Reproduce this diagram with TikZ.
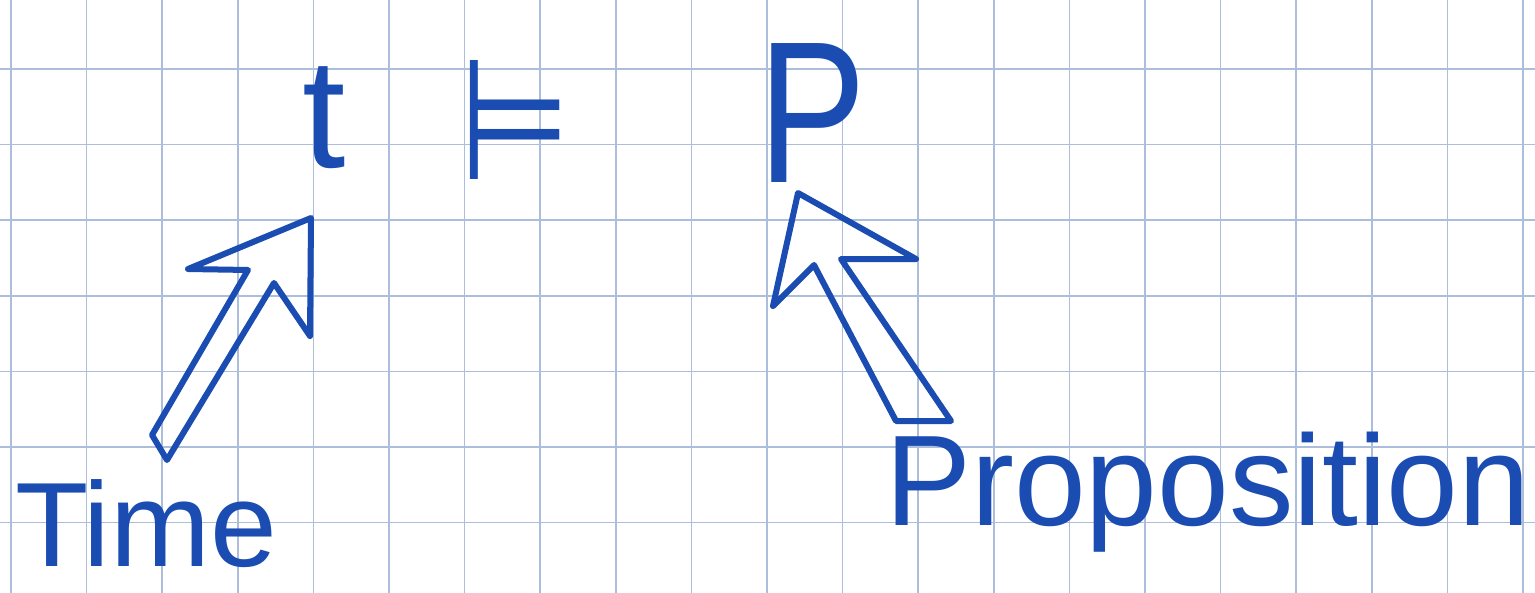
\documentclass[tikz,border=0pt]{standalone}
\usepackage{fontspec}
\setmainfont{Liberation Sans}
\newfontfamily\symfont{DejaVu Sans}
\definecolor{ink}{RGB}{26,76,178}
\definecolor{gridc}{RGB}{172,190,220}
\begin{document}
\begin{tikzpicture}[x=0.5pt,y=-0.5pt,
  inkline/.style={draw=ink,line width=3pt,line join=round,line cap=round},
  gridline/.style={draw=gridc,line width=0.8pt},
  hand/.style={text=ink,inner sep=0pt,outer sep=0pt}]
\useasboundingbox (0,0) rectangle (1535,593);
\fill[white] (0,0) rectangle (1535,593);
\foreach \k in {0,...,20} \draw[gridline] ({11+75.6*\k},0) -- ({11+75.6*\k},593);
\foreach \k in {0,...,6} \draw[gridline] (0,{69+75.6*\k}) -- (1535,{69+75.6*\k});
% texts
\node[hand,anchor=base west,font=\fontsize{60}{66}\selectfont] (time) at (15,566) {Time};
\node[hand,anchor=base west,font=\fontsize{64.5}{70}\selectfont] (prop) at (885,525) {Proposition};
\node[hand,anchor=base west,font=\fontsize{78}{80}\selectfont] (t) at (302,168) {t};
\node[hand,font=\symfont\fontsize{85}{90}\selectfont] (models) at (515,120) {\scalebox{0.75}[1]{⊨}};
\node[hand,anchor=base west,font=\fontsize{101}{104}\selectfont] (p) at (758,183) {\scalebox{0.8}[1]{P}};
% block arrows
\draw[inkline] (311,218) -- (188,269) -- (248,270) -- (152,435) -- (167,460) -- (274,283) -- (310,336) -- cycle;
\draw[inkline] (798,193) -- (916,259) -- (841,259) -- (951,421) -- (896,421) -- (814,265) -- (773,306) -- cycle;
\end{tikzpicture}
\end{document}
